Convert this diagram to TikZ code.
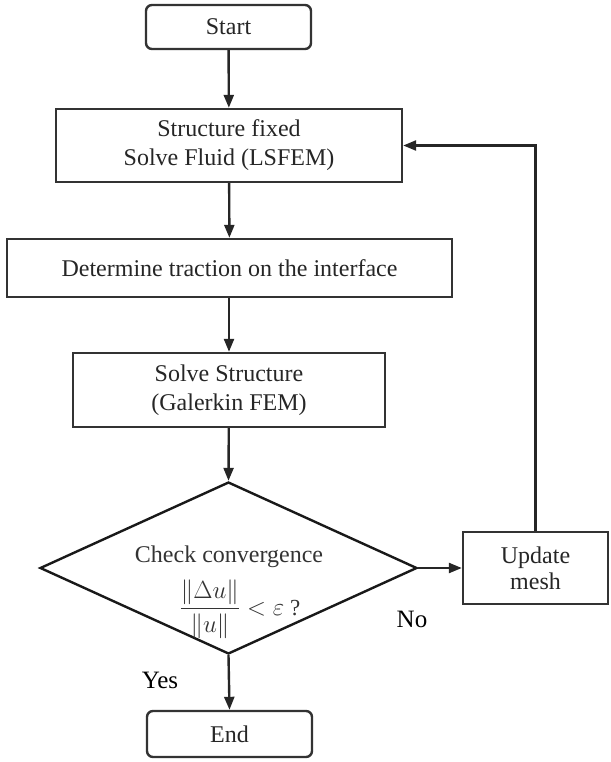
\documentclass[tikz,border=0pt]{standalone}
\usepackage{amsmath}
\usepackage{fontspec}
\setmainfont{Liberation Serif}
\usetikzlibrary{shapes.geometric,arrows.meta}
\begin{document}
\begin{tikzpicture}[x=1pt,y=-1pt,
  font=\fontsize{24}{29}\selectfont,
  box/.style={draw=black!80, line width=2.4pt, rectangle, align=center, inner sep=0pt, text=black!85},
  term/.style={box, rounded corners=6pt},
  dec/.style={draw=black!90, line width=2.4pt, diamond, inner sep=0pt},
  arr/.style={draw=black!85, line width=2.4pt, -{Triangle[length=13pt,width=10pt]}},
  lbl/.style={text=black, font=\fontsize{25}{30}\selectfont, inner sep=0pt},
  txt/.style={text=black!80, inner sep=0pt, align=center}
]
\useasboundingbox (0,0) rectangle (610,762);
\node[term, minimum width=165pt, minimum height=44pt] (start) at (228.5,27) {Start};
\node[box, minimum width=346pt, minimum height=73pt] (fluid) at (229,145.5) {Structure fixed\\Solve Fluid (LSFEM)};
\node[box, minimum width=445pt, minimum height=58pt] (trac) at (229.5,268) {Determine traction on the interface};
\node[box, minimum width=312pt, minimum height=74pt] (solid) at (229,390) {Solve Structure\\(Galerkin FEM)};
\node[dec, minimum width=377pt, minimum height=172pt] (dec) at (228.5,568) {};
\node[txt] (dtitle) at (229,557) {Check convergence};
\node[txt, font=\fontsize{23}{26}\selectfont] (crit) at (240,609) {$\dfrac{\|\Delta u\|}{\|u\|} < \varepsilon$ ?};
\node[box, minimum width=145pt, minimum height=72pt, font=\fontsize{24}{26}\selectfont] (update) at (535.5,568) {Update\\mesh};
\node[term, minimum width=165pt, minimum height=46pt] (end) at (229.5,734) {End};
\node[lbl] (no) at (412,619) {No};
\node[lbl] (yes) at (160,680) {Yes};
\draw[arr] (start) -- (fluid);
\draw[arr] (fluid) -- (trac);
\draw[arr] (trac.south -| solid.north) -- (solid.north);
\draw[arr] (solid) -- (dec.north);
\draw[arr] (dec.east) -- (update.west);
\draw[arr] (dec.south) -- (end.north);
\draw[arr] (update.north) |- (fluid.east);
\end{tikzpicture}
\end{document}
